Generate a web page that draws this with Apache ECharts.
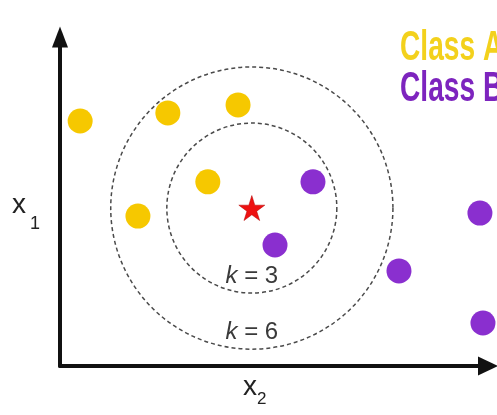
<!DOCTYPE html>
<html>
<head>
<meta charset="utf-8">
<script src="https://cdn.jsdelivr.net/npm/echarts@6/dist/echarts.min.js"></script>
<style>
  html, body { margin: 0; padding: 0; background: #fff; }
  #chart { width: 497px; height: 415px; }
</style>
</head>
<body>
<div id="chart"></div>
<script>
// points in plot units (same scale on both axes)
var classA = [[0.60, 7.29], [3.21, 7.53], [5.30, 7.77], [4.40, 5.48], [2.32, 4.46]];
var classB = [[7.53, 5.48], [6.40, 3.60], [10.09, 2.83], [12.50, 4.55], [12.59, 1.28]];
var query = [[5.71, 4.70]];
// neighbourhood circles: centre x, centre y, radius, label
var rings = [[5.71, 4.70, 2.53, '3'], [5.71, 4.70, 4.20, '6']];
var legendNames = ['Class A', 'Class B'];

var yellow = '#F6C800';
var purple = '#8A2FCF';
var starPath = 'path://M50,0 L61,35 L98,35 L68,57 L79,91 L50,70 L21,91 L32,57 L2,35 L39,35 Z';

var chart = echarts.init(document.getElementById('chart'));

var axisLine = function (size) {
  return {
    show: true,
    symbol: ['none', 'triangle'],
    symbolSize: size,
    lineStyle: { color: '#111', width: 4 }
  };
};

chart.setOption({
  animation: false,
  grid: { left: 60, right: 9, top: 37, bottom: 49 },
  xAxis: {
    type: 'value',
    min: 0,
    max: 12.74,
    axisLine: axisLine([19, 20]),
    axisTick: { show: false },
    axisLabel: { show: false },
    splitLine: { show: false }
  },
  yAxis: {
    type: 'value',
    min: 0,
    max: 9.79,
    axisLine: axisLine([16, 21]),
    axisTick: { show: false },
    axisLabel: { show: false },
    splitLine: { show: false }
  },
  graphic: [
    {
      type: 'text', left: null, x: 400, y: 48, scaleX: 0.67,
      style: { text: legendNames[0], font: 'bold 42px "Liberation Sans"', fill: '#F3D11C', verticalAlign: 'middle' }
    },
    {
      type: 'text', x: 400, y: 89, scaleX: 0.67,
      style: { text: legendNames[1], font: 'bold 42px "Liberation Sans"', fill: '#7D24BE', verticalAlign: 'middle' }
    },
    { type: 'text', x: 12, y: 205, style: { text: 'x', font: '28px "Liberation Sans"', fill: '#222', verticalAlign: 'middle' } },
    { type: 'text', x: 30, y: 224, style: { text: '1', font: '18px "Liberation Sans"', fill: '#222', verticalAlign: 'middle' } },
    { type: 'text', x: 243, y: 387, style: { text: 'x', font: '28px "Liberation Sans"', fill: '#222', verticalAlign: 'middle' } },
    { type: 'text', x: 257, y: 399, style: { text: '2', font: '17px "Liberation Sans"', fill: '#222', verticalAlign: 'middle' } }
  ],
  series: [
    {
      type: 'custom',
      data: rings,
      clip: false,
      silent: true,
      renderItem: function (params, api) {
        var c = api.coord([api.value(0), api.value(1)]);
        var r = api.size([api.value(2), 0])[0];
        return {
          type: 'group',
          children: [
            {
              type: 'circle',
              shape: { cx: c[0], cy: c[1], r: r },
              style: { fill: 'none', stroke: '#4a4a4a', lineWidth: 1.5, lineDash: [4, 3] }
            },
            {
              type: 'text',
              x: c[0],
              y: c[1] + r - 17,
              style: {
                text: '{k|k} = ' + api.value(3),
                font: '24px "Liberation Sans"',
                fill: '#3a3a3a',
                align: 'center',
                verticalAlign: 'middle',
                rich: { k: { fontStyle: 'italic', fontSize: 24, fontFamily: 'Liberation Sans', fill: '#3a3a3a' } }
              }
            }
          ]
        };
      }
    },
    {
      type: 'scatter',
      data: classA,
      symbolSize: 25,
      clip: false,
      itemStyle: { color: yellow, opacity: 1 }
    },
    {
      type: 'scatter',
      data: classB,
      symbolSize: 25,
      clip: false,
      itemStyle: { color: purple, opacity: 1 }
    },
    {
      type: 'scatter',
      data: query,
      symbol: starPath,
      symbolSize: [26, 25],
      clip: false,
      itemStyle: { color: '#EE1111', borderColor: '#B00000', borderWidth: 0.5, opacity: 1 }
    }
  ]
});
</script>
</body>
</html>
